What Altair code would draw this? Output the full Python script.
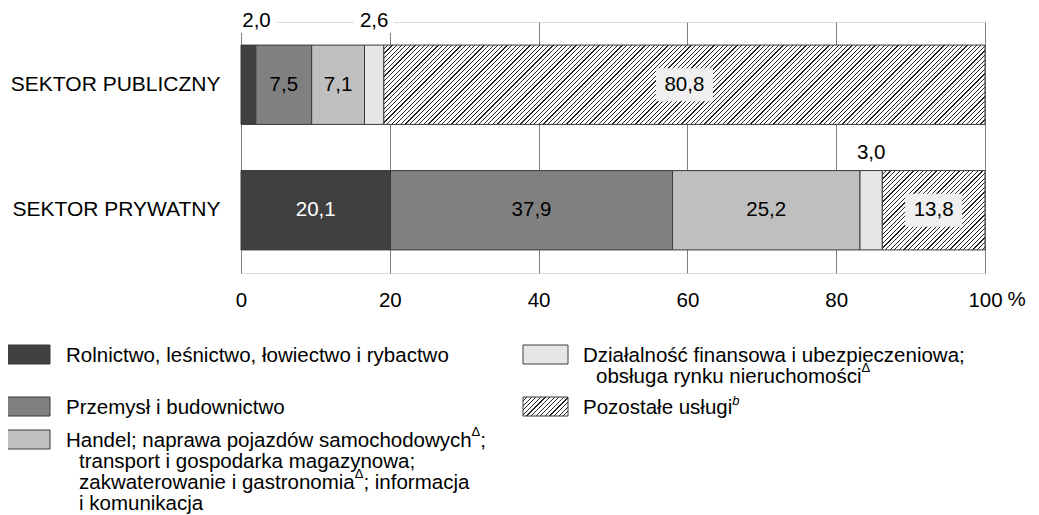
import altair as alt
import pandas as pd

# ---------------- data ----------------
sectors = ["SEKTOR PUBLICZNY", "SEKTOR PRYWATNY"]
categories = [
    "Rolnictwo, leśnictwo, łowiectwo i rybactwo",
    "Przemysł i budownictwo",
    "Handel; transport; zakwaterowanie; informacja",
    "Działalność finansowa i ubezpieczeniowa",
    "Pozostałe usługi",
]
public_values = [2.0, 7.5, 7.1, 2.6, 80.8]
private_values = [20.1, 37.9, 25.2, 3.0, 13.8]
x_ticks = [0, 20, 40, 60, 80, 100]

# ---------------- style / layout ----------------
FONT = "Liberation Sans"
FS = 20.5
W, H = 744, 251
PAD_IN, PAD_OUT = 0.368, 0.184
STEP = H / (2 - PAD_IN + 2 * PAD_OUT)
BW = STEP * (1 - PAD_IN)
ORIGIN_X, ORIGIN_Y = 241, 22   # page position of plot area
fills = ["#404040", "#808080", "#bfbfbf", "#e6e6e6"]
STROKE = "#3a3a3a"
INSIDE_MIN = 5.0

def hatch(wpx, hpx, period=4.6, frac=0.26, dark="#2a2a2a", light="#ffffff"):
    k = (wpx + hpx) / (wpx ** 2 + hpx ** 2)
    total = wpx + hpx
    stops = []
    pos = 0.0
    while pos < total:
        a = (pos + period * (1 - frac)) / total
        b = (pos + period) / total
        s = pos / total
        stops += [{"offset": min(s, 1), "color": light},
                  {"offset": min(a, 1), "color": light},
                  {"offset": min(a, 1), "color": dark},
                  {"offset": min(b, 1), "color": dark}]
        pos += period
    return {"gradient": "linear", "x1": 0, "y1": 0, "x2": wpx * k, "y2": hpx * k,
            "stops": stops}

# ---------------- table ----------------
rows = []
for s, vals in zip(sectors, [public_values, private_values]):
    start = 0.0
    for i, (c, v) in enumerate(zip(categories, vals)):
        end = start + v
        rows.append(dict(sector=s, cat=c, idx=i, value=v, start=start, end=end,
                         mid=(start + end) / 2,
                         label=f"{v:.1f}".replace(".", ","),
                         inside=v >= INSIDE_MIN,
                         tcolor="#ffffff" if i == 0 else "#000000"))
        start = end
df = pd.DataFrame(rows)

xscale = alt.Scale(domain=[0, 100], nice=False, zero=True)
yscale = alt.Scale(domain=sectors, paddingInner=PAD_IN, paddingOuter=PAD_OUT)
xaxis = alt.Axis(values=x_ticks, grid=True, gridColor="#7f7f7f", gridWidth=1,
                 ticks=False, tickSize=0, domain=False, labelFont=FONT,
                 labelFontSize=FS, labelColor="#000000", labelPadding=17,
                 title=None, labelFlush=False)
yaxis = alt.Axis(ticks=False, domain=False, grid=False, labelFont=FONT,
                 labelFontSize=21, labelColor="#000000", labelPadding=21,
                 title=None, labelLimit=400)

base = alt.Chart(df)
X = alt.X("start:Q", scale=xscale, axis=xaxis)
Y = alt.Y("sector:N", sort=sectors, scale=yscale, axis=yaxis)

bars = base.transform_filter(alt.datum.idx < 4).mark_bar(
    stroke=STROKE, strokeWidth=1).encode(
    x=X, x2="end:Q", y=Y,
    fill=alt.Fill("cat:N", scale=alt.Scale(domain=categories[:4], range=fills), legend=None),
)

layers = [bars]
for s, vals in zip(sectors, [public_values, private_values]):
    wpx = vals[4] / 100 * W
    layers.append(
        base.transform_filter((alt.datum.idx == 4) & (alt.datum.sector == s))
        .mark_bar(fill=hatch(wpx, BW), stroke=STROKE, strokeWidth=1)
        .encode(x=X, x2="end:Q", y=Y)
    )

# label boxes inside hatched segments
box_in = base.transform_filter((alt.datum.idx == 4) & alt.datum.inside).mark_point(
    shape="M-1,-0.58H1V0.58H-1Z", filled=True, color="#efefef", opacity=1,
    size=57 * 57, strokeWidth=0).encode(x="mid:Q", y=Y)
txt_in = base.transform_filter(alt.datum.inside).mark_text(
    font=FONT, fontSize=FS, baseline="middle", align="center").encode(
    x="mid:Q", y=Y, text="label:N", color=alt.Color("tcolor:N", scale=None))
layers += [box_in, txt_in]

# labels above bars for thin segments
above_off = {sectors[0]: 18, sectors[1]: 12}
for s in sectors:
    off = BW / 2 + above_off[s]
    sub = base.transform_filter((~alt.datum.inside) & (alt.datum.sector == s)) \
        .transform_calculate(lx="max(datum.mid, 2.08)")
    layers.append(sub.mark_point(
        shape="M-1,-0.65H1V0.65H-1Z", filled=True, color="#ffffff", opacity=1,
        size=40 * 40, strokeWidth=0, yOffset=-(off + 7.3)).encode(x="lx:Q", y=Y))
    layers.append(sub.mark_text(
        font=FONT, fontSize=FS, baseline="alphabetic", align="center", dy=-off,
        color="#000000").encode(x="lx:Q", y=Y, text="label:N"))

pct = alt.Chart(pd.DataFrame({"v": [100]})).mark_text(
    font=FONT, fontSize=FS, align="left", baseline="alphabetic", dx=22.5,
    color="#000000").encode(x=alt.X("v:Q", scale=xscale), y=alt.value(306 - ORIGIN_Y), text=alt.value("%"))
layers.append(pct)

# ---------------- legend (manual) ----------------
AW = {' ': 278, ',': 278, ';': 278, '.': 278, 'a': 556, 'b': 556, 'c': 500, 'd': 556,
      'e': 556, 'f': 278, 'g': 556, 'h': 556, 'i': 222, 'j': 222, 'k': 500, 'l': 222,
      'm': 833, 'n': 556, 'o': 556, 'p': 556, 'q': 556, 'r': 333, 's': 500, 't': 278,
      'u': 556, 'v': 500, 'w': 722, 'x': 500, 'y': 500, 'z': 500, 'ś': 500, 'ł': 222,
      'ó': 556, 'ę': 556, 'ć': 500, 'ń': 556, 'ą': 556, 'ż': 500, 'ź': 500,
      'H': 722, 'D': 722, 'P': 667, 'R': 722, 'Δ': 668}

def tw(s, fs):
    return sum(AW.get(ch, 556) for ch in s) / 1000 * fs

LH = 21
legend_lines = [
    # (category idx, column, line no, runs)
    (0, 0, 0, [("Rolnictwo, leśnictwo, łowiectwo i rybactwo", "n")]),
    (1, 0, 0, [("Przemysł i budownictwo", "n")]),
    (2, 0, 0, [("Handel; naprawa pojazdów samochodowych", "n"), ("Δ", "s"), (";", "n")]),
    (2, 0, 1, [("transport i gospodarka magazynowa;", "n")]),
    (2, 0, 2, [("zakwaterowanie i gastronomia", "n"), ("Δ", "s"), ("; informacja", "n")]),
    (2, 0, 3, [("i komunikacja", "n")]),
    (3, 1, 0, [("Działalność finansowa i ubezpieczeniowa;", "n")]),
    (3, 1, 1, [("obsługa rynku nieruchomości", "n"), ("Δ", "s")]),
    (4, 1, 0, [("Pozostałe usługi", "n"), ("b", "i")]),
]
row_base = {0: 362, 1: 414, 2: 447, 3: 362, 4: 414}
col_sw = {0: 5, 1: 523}
col_tx = {0: 66, 1: 583}
CONT = 13

trows = []
for ci, col, ln, runs in legend_lines:
    x = col_tx[col] + (CONT if ln > 0 else 0)
    y = row_base[ci] + ln * LH
    for t, st in runs:
        if st == "n":
            fs, dy = FS, 0
        elif st == "s":
            fs, dy = 13, -11
        else:
            fs, dy = 13, -9
        trows.append(dict(t=t, st=st, px=x - ORIGIN_X, py=y + dy - ORIGIN_Y, fs=fs))
        x += tw(t, fs) + (1 if st == "i" else 0)
tdf = pd.DataFrame(trows)

for st, style in [("n", "normal"), ("s", "normal"), ("i", "italic")]:
    layers.append(
        alt.Chart(tdf).transform_filter(alt.datum.st == st).mark_text(
            font=FONT, align="left", baseline="alphabetic", fontStyle=style,
            color="#000000").encode(
            x=alt.X("px:Q", scale=None), y=alt.Y("py:Q", scale=None),
            text="t:N", size=alt.Size("fs:Q", scale=None))
    )

sw_rows = []
for ci in range(5):
    col = 0 if ci < 3 else 1
    b = row_base[ci]
    sw_rows.append(dict(idx=ci, cat=categories[ci],
                        x1=col_sw[col] - ORIGIN_X, x2=col_sw[col] + 45 - ORIGIN_X,
                        y1=b - 17 - ORIGIN_Y, y2=b + 2 - ORIGIN_Y))
swdf = pd.DataFrame(sw_rows)
layers.append(
    alt.Chart(swdf).transform_filter(alt.datum.idx < 4).mark_rect(
        stroke=STROKE, strokeWidth=1).encode(
        x=alt.X("x1:Q", scale=None), x2="x2:Q", y=alt.Y("y1:Q", scale=None), y2="y2:Q",
        fill=alt.Fill("cat:N", scale=alt.Scale(domain=categories[:4], range=fills), legend=None))
)
layers.append(
    alt.Chart(swdf).transform_filter(alt.datum.idx == 4).mark_rect(
        fill=hatch(45, 19), stroke=STROKE, strokeWidth=1).encode(
        x=alt.X("x1:Q", scale=None), x2="x2:Q", y=alt.Y("y1:Q", scale=None), y2="y2:Q")
)

chart = alt.layer(*layers).properties(
    width=W, height=H,
    padding={"left": ORIGIN_X - 8, "top": ORIGIN_Y - 8, "right": 46, "bottom": 506 - (ORIGIN_Y - 8) - H},
    autosize=alt.AutoSizeParams(type="none"),
).configure_view(strokeWidth=0).configure(background="#ffffff")

chart.save("out.html", embed_options={"renderer": "svg", "actions": False})
